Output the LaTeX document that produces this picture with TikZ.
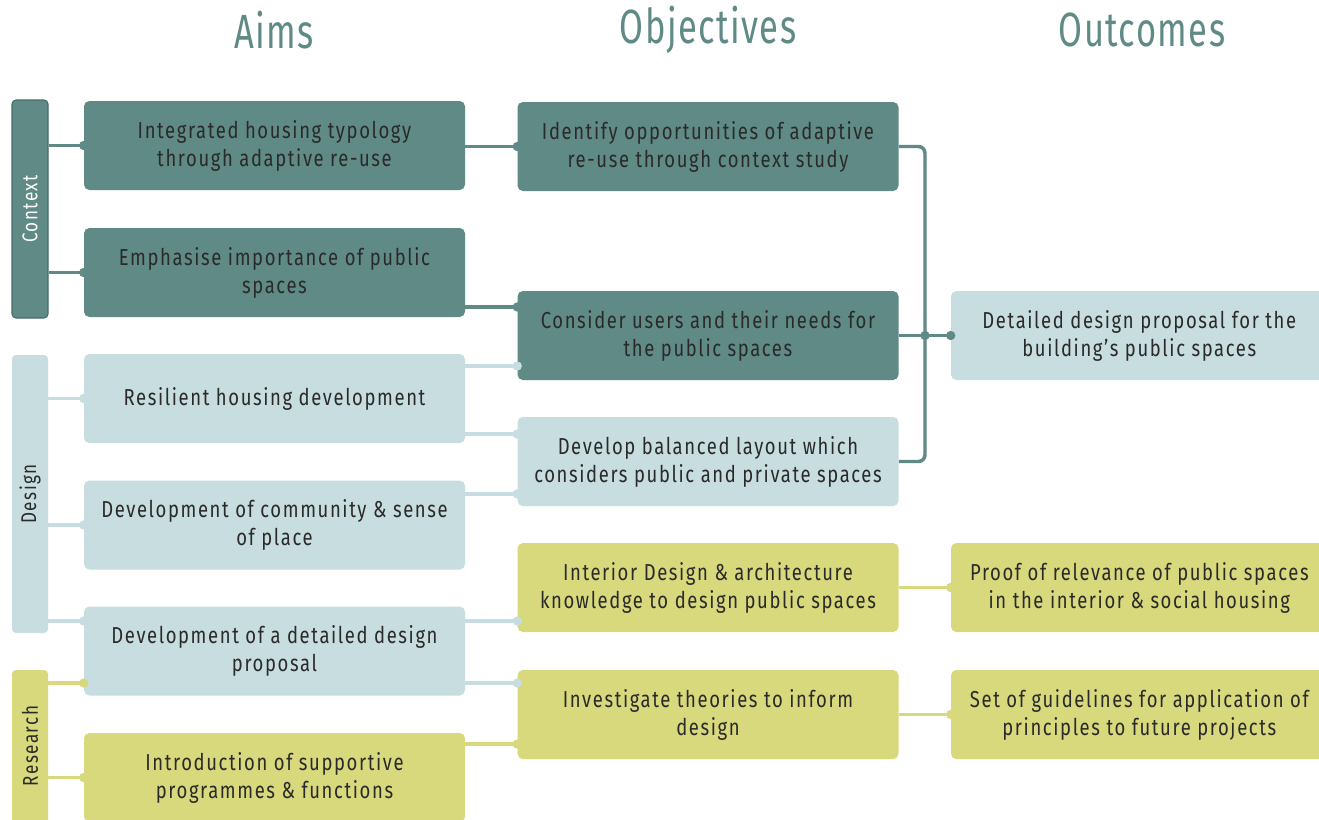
\documentclass[tikz,border=0pt]{standalone}
\usepackage{fontspec}
\setmainfont{Fira Sans}[FakeStretch=0.80, LetterSpace=7]
\newfontfamily\titlefont{Fira Sans}[FakeStretch=0.72, LetterSpace=3]
\usetikzlibrary{calc}
\definecolor{dk}{HTML}{5F8A86}
\definecolor{dkline}{HTML}{466C69}
\definecolor{lt}{HTML}{C7DDE0}
\definecolor{yl}{HTML}{D8D87C}
\definecolor{txt}{HTML}{2A2A2A}
\tikzset{
  x=0.75pt, y=-0.75pt,
  box/.style={rounded corners=4pt, minimum width=381*0.75pt, minimum height=89*0.75pt,
     align=center, text=txt, font=\fontsize{17.3}{21}\selectfont, inner sep=0pt},
  dkbox/.style={box, fill=dk},
  ltbox/.style={box, fill=lt},
  ylbox/.style={box, fill=yl},
  bar/.style={rounded corners=3pt, minimum width=36*0.75pt, inner sep=0pt, text=white},
  barlabel/.style={rotate=90, font=\fontsize{16}{18}\selectfont},
  title/.style={text=dk, font=\titlefont\fontsize{36}{39}\selectfont},
  cn/.style={line width=2.6pt},
  dot/.style={circle, inner sep=0pt, minimum size=7pt},
}
\begin{document}
\begin{tikzpicture}
\useasboundingbox (0,0) rectangle (1319,819);
\fill[white] (0,0) rectangle (1319,819);

% titles
\node[title] (tA) at (274,30) {Aims};
\node[title] (tB) at (708,30) {Objectives};
\node[title] (tC) at (1142,30) {Outcomes};

% theme bars
\node[bar, fill=dk, draw=dkline, line width=0.8pt, minimum height=218*0.75pt] (ctx) at (30,209) {};
\node[barlabel, text=white] (ctxT) at (ctx.center) {Context};
\node[bar, fill=lt, minimum height=278*0.75pt] (des) at (30,494) {};
\node[barlabel, text=txt] (desT) at (des.center) {Design};
\node[bar, fill=yl, minimum height=160*0.75pt] (res) at (30,750) {};
\node[barlabel, text=txt] (resT) at (30,746) {Research};

% aims
\node[dkbox] (a1) at (274.5,145.5) {Integrated housing typology\\through adaptive re-use};
\node[dkbox] (a2) at (274.5,272.5) {Emphasise importance of public\\spaces};
\node[ltbox] (a3) at (274.5,398.5) {Resilient housing development};
\node[ltbox] (a4) at (274.5,525) {Development of community \& sense\\of place};
\node[ltbox] (a5) at (274.5,651) {Development of a detailed design\\proposal};
\node[ylbox] (a6) at (274.5,777.5) {Introduction of supportive\\programmes \& functions};

% objectives
\node[dkbox] (o1) at (708,146.5) {Identify opportunities of adaptive\\re-use through context study};
\node[dkbox] (o2) at (708,335.5) {Consider users and their needs for\\the public spaces};
\node[ltbox] (o3) at (708,461.5) {Develop balanced layout which\\considers public and private spaces};
\node[ylbox] (o4) at (708,587.5) {Interior Design \& architecture\\knowledge to design public spaces};
\node[ylbox] (o5) at (708,714.5) {Investigate theories to inform\\design};

% outcomes
\node[ltbox, minimum width=390*0.75pt] (r1) at (1146,335.5) {\hspace*{-10pt}Detailed design proposal for the\\\hspace*{-10pt}building's public spaces};
\node[ylbox, minimum width=390*0.75pt] (r2) at (1146,587.5) {\hspace*{-10pt}Proof of relevance of public spaces\\\hspace*{-10pt}in the interior \& social housing};
\node[ylbox, minimum width=390*0.75pt] (r3) at (1146,714.5) {\hspace*{-10pt}Set of guidelines for application of\\\hspace*{-10pt}principles to future projects};

% bar -> aims
\draw[cn, dk] (ctx.east |- a1.west) -- (a1.west) node[dot, fill=dk] {};
\draw[cn, dk] (ctx.east |- a2.west) -- (a2.west) node[dot, fill=dk] {};
\draw[cn, lt] (des.east |- a3.west) -- (a3.west) node[dot, fill=lt] {};
\draw[cn, lt] (des.east |- a4.west) -- (a4.west) node[dot, fill=lt] {};
\coordinate (y5a) at (0,621);
\coordinate (y5b) at (0,683);
\draw[cn, lt] (des.east |- y5a) -- (a5.west |- y5a) node[dot, fill=lt] {};
\draw[cn, yl] (res.east |- y5b) -- (a5.west |- y5b) node[dot, fill=yl] {};
\draw[cn, yl] (res.east |- a6.west) -- (a6.west) node[dot, fill=yl] {};

% aims -> objectives
\draw[cn, dk] (a1.east |- o1.west) -- (o1.west) node[dot, fill=dk] {};
\coordinate (y2) at (0,307);
\draw[cn, dk] (a2.east |- y2) -- (o2.west |- y2) node[dot, fill=dk] {};
\coordinate (y3a) at (0,366);
\coordinate (y3b) at (0,434);
\coordinate (y4) at (0,494);
\draw[cn, lt] (a3.east |- y3a) -- (o2.west |- y3a) node[dot, fill=lt] {};
\draw[cn, lt] (a3.east |- y3b) -- (o3.west |- y3b) node[dot, fill=lt] {};
\draw[cn, lt] (a4.east |- y4) -- (o3.west |- y4) node[dot, fill=lt] {};
\draw[cn, lt] (a5.east |- y5a) -- (o4.west |- y5a) node[dot, fill=lt] {};
\draw[cn, lt] (a5.east |- y5b) -- (o5.west |- y5b) node[dot, fill=lt] {};
\coordinate (y6) at (0,744);
\draw[cn, yl] (a6.east |- y6) -- (o5.west |- y6) node[dot, fill=yl] {};

% objectives -> outcomes
\coordinate (bus) at (925,0);
\draw[cn, dk, rounded corners=5pt] (o1.east) -- (bus |- o1.east) -- (bus |- o3.east) -- (o3.east);
\draw[cn, dk] (o2.east) -- (r1.west) node[dot, fill=dk] {};
\node[dot, fill=dk] (jn) at (bus |- o2.east) {};
\draw[cn, yl] (o4.east) -- (r2.west) node[dot, fill=yl] {};
\draw[cn, yl] (o5.east) -- (r3.west) node[dot, fill=yl] {};
\end{tikzpicture}
\end{document}
